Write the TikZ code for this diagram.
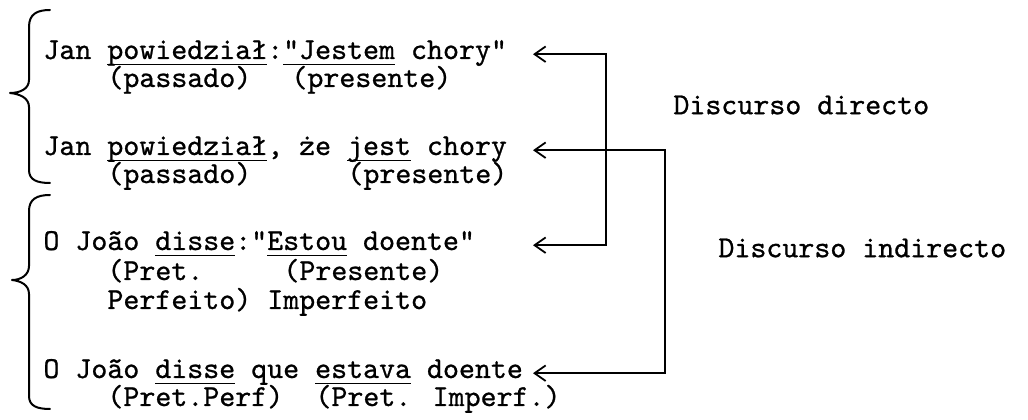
\documentclass[tikz,border=0pt]{standalone}
\usepackage{fontspec}
\newfontfamily\typer[FakeBold=0.8]{lmmono10-regular.otf}
\usetikzlibrary{arrows.meta,positioning}

% typed underline: one rule just under the baseline, as wide as the word
\newcommand{\und}[1]{\setbox0=\hbox{#1}\rlap{\rule[-2.9pt]{\wd0}{0.8pt}}\box0\relax}
% typewriter columns, 16 units each, counted from the left margin
\newcommand{\col}[1]{43+#1*16}

\begin{document}
\begin{tikzpicture}[
  x=0.45pt, y=-0.45pt,
  txt/.style={font={\typer\fontsize{13.7}{13.7}\selectfont}, inner sep=0pt, anchor=base west},
  link/.style={{Straight Barb[length=5pt,width=7pt]}-{Straight Barb[length=5pt,width=7pt]}, line width=0.8pt},
  curly/.style={line width=0.9pt, line cap=round, line join=round}
]
\useasboundingbox (0,0) rectangle (1028,420);

% Polish pair
\node[txt] (l1) at (43,59) {Jan \und{powiedział}:\und{"Jestem} chory"};
\node[txt] (p1) at ({\col{4}},87) {(passado)};
\node[txt] (q1) at ({\col{15.5}},87) {(presente)};
\node[txt] (l2) at (43,155) {Jan \und{powiedział}, że \und{jest} chory};
\node[txt] (p2) at ({\col{4}},183) {(passado)};
\node[txt] (q2) at ({\col{19}},183) {(presente)};

% Portuguese pair
\node[txt] (l3) at (43,250) {O João \und{disse}:"\und{Estou} doente"};
\node[txt] (p3) at ({\col{4}},280) {(Pret.};
\node[txt] (q3) at ({\col{15}},280) {(Presente)};
\node[txt] (r3) at ({\col{4}},309) {Perfeito) Imperfeito};
\node[txt] (l4) at (43,378) {O João \und{disse} que \und{estava} doente};
\node[txt] (p4) at ({\col{4}},406) {(Pret.Perf)};
\node[txt] (q4) at ({\col{17}},406) {(Pret. Imperf.)};

\node[txt, anchor=west] (dd) at (673,105) {Discurso directo};
\node[txt, anchor=west] (di) at (718,248) {Discurso indirecto};

% braces
\draw[curly] (50,10) .. controls (37,10) and (29,14) .. (29,27) -- (29,80)
  .. controls (29,89) and (20,93) .. (10,93) .. controls (20,94) and (29,98) .. (29,107)
  -- (29,170) .. controls (29,180) and (37,183) .. (50,183);
\draw[curly] (50,195) .. controls (37,195) and (29,199) .. (29,211) -- (29,266)
  .. controls (29,275) and (21,280) .. (12,280) .. controls (21,281) and (29,285) .. (29,294)
  -- (29,396) .. controls (29,406) and (37,409) .. (50,409);

% connectors
\coordinate (tip) at (533,0);
\coordinate (dir) at (606,150);
\coordinate (ind) at (665,260);
\draw[link] (l1.mid east -| tip) -| (dir) |- (l3.mid east -| tip);
\draw[link] (l2.mid east -| tip) -| (ind) |- (l4.mid east -| tip);
\end{tikzpicture}
\end{document}
